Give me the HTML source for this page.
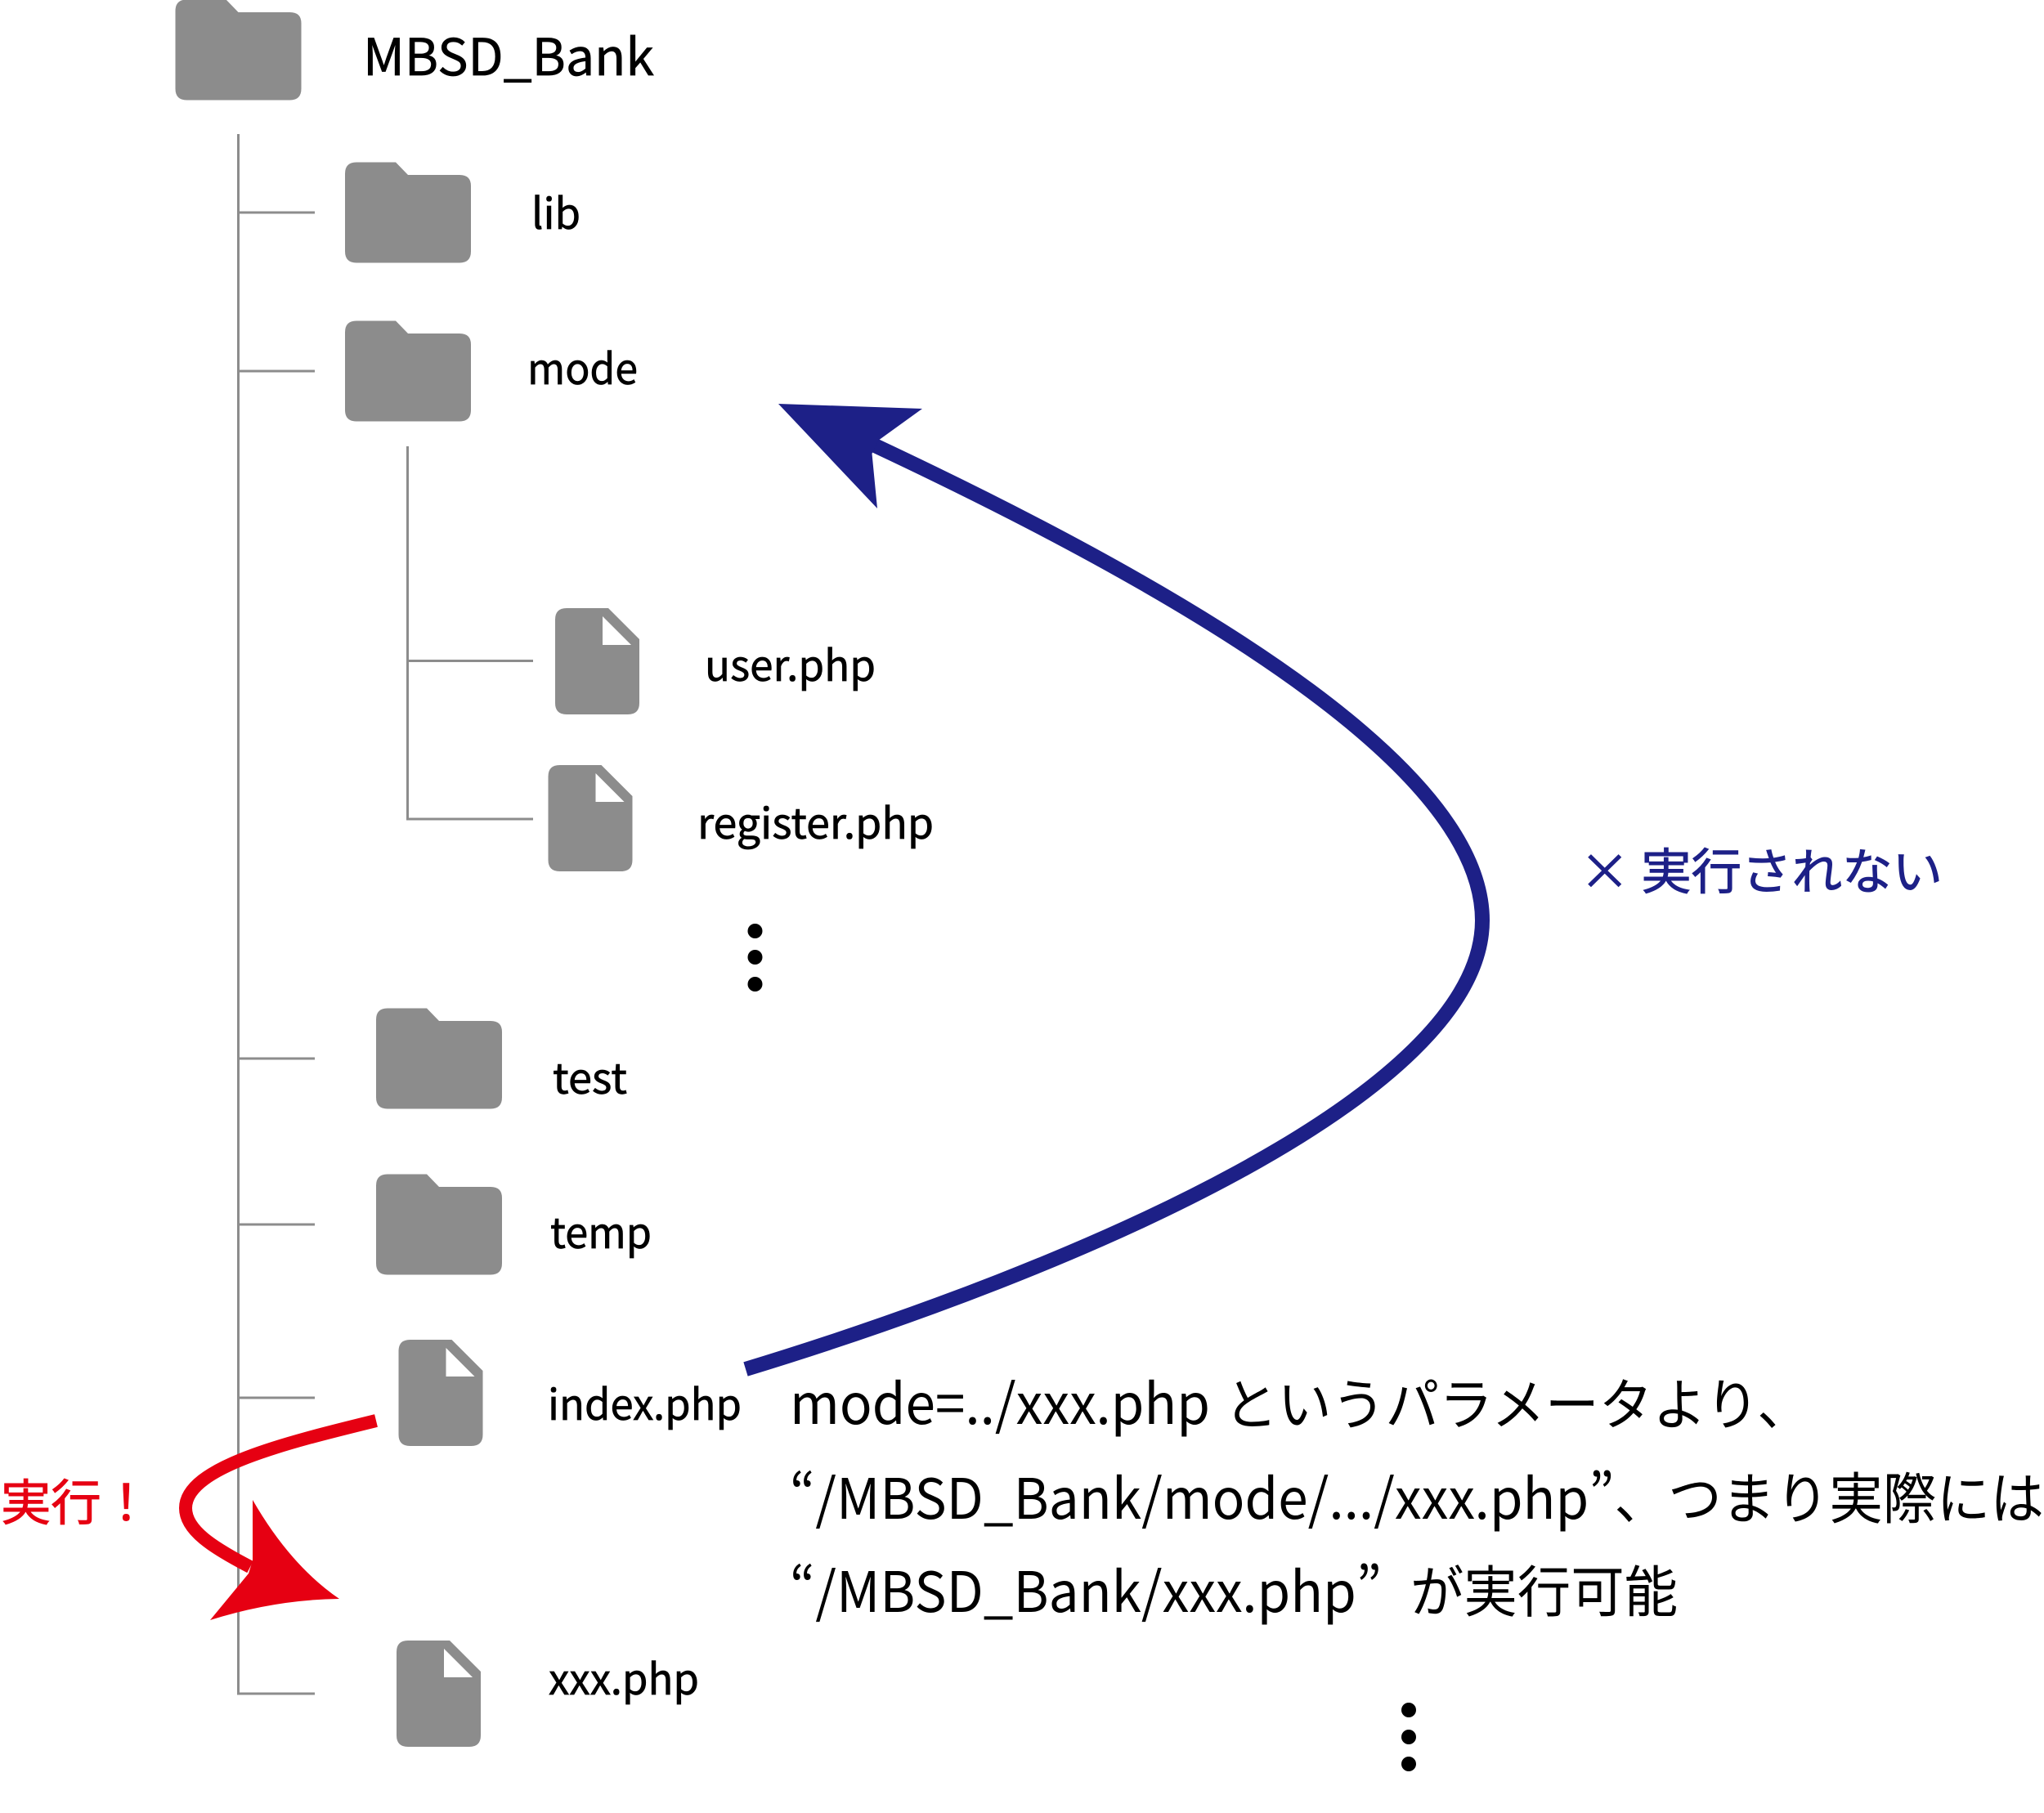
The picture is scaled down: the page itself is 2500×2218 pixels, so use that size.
<!DOCTYPE html>
<html lang="ja"><head><meta charset="utf-8"><title>MBSD_Bank</title>
<style>
html,body{margin:0;padding:0;background:#fff;width:2500px;height:2218px;overflow:hidden}
svg{display:block}
text{font-family:"Noto Sans CJK JP","Liberation Sans",sans-serif;fill:#000}
.l{stroke:#000;stroke-width:.7px}
.b{fill:#1d2087;stroke:#1d2087;stroke-width:1px}
.r{fill:#e60012;stroke:#e60012;stroke-width:1px}
</style></head><body>
<svg xmlns="http://www.w3.org/2000/svg" width="2500" height="2218" viewBox="0 0 2500 2218">
<defs>
<path id="f" d="M14 0H62L77 15.500H140Q154 15.500 154 29V109Q154 123 140 123H14Q0 123 0 109V14Q0 0 14 0Z" fill="#8c8c8c"/>
<g id="d"><path d="M14 0H65L103 38V116Q103 130 89 130H14Q0 130 0 116V14Q0 0 14 0Z" fill="#8c8c8c"/><path d="M58 10V45H93Z" fill="#fff"/></g>
</defs>
<rect width="2500" height="2218" fill="#fff"/>
<g stroke="#8c8c8c" stroke-width="3" fill="none">
<path d="M291.500 164V2072H385M291.500 260H385M291.500 454H385M291.500 1295H385M291.500 1498H385M291.500 1710H385"/>
<path d="M498.500 546V1002H652M498.500 808.500H652"/>
</g>
<use href="#f" x="214.500" y="-0.500"/>
<use href="#f" x="422" y="198.500"/>
<use href="#f" x="422" y="392.500"/>
<use href="#f" x="460" y="1233.500"/>
<use href="#f" x="460" y="1436.500"/>
<use href="#d" x="679" y="744"/>
<use href="#d" x="670.500" y="936"/>
<use href="#d" x="487.500" y="1639"/>
<use href="#d" x="485" y="2007"/>
<text class="l" x="444" y="92" font-size="62" textLength="356" lengthAdjust="spacingAndGlyphs">MBSD_Bank</text>
<text class="l" x="650" y="280" font-size="52" textLength="60" lengthAdjust="spacingAndGlyphs">lib</text>
<text class="l" x="645" y="470" font-size="52" textLength="135" lengthAdjust="spacingAndGlyphs">mode</text>
<text class="l" x="862" y="833" font-size="52" textLength="209" lengthAdjust="spacingAndGlyphs">user.php</text>
<text class="l" x="853" y="1026" font-size="52" textLength="289" lengthAdjust="spacingAndGlyphs">register.php</text>
<text class="l" x="676" y="1338" font-size="52" textLength="91" lengthAdjust="spacingAndGlyphs">test</text>
<text class="l" x="673" y="1527" font-size="52" textLength="124" lengthAdjust="spacingAndGlyphs">temp</text>
<text class="l" x="670" y="1737" font-size="52" textLength="237" lengthAdjust="spacingAndGlyphs">index.php</text>
<text class="l" x="671" y="2073" font-size="52" textLength="184" lengthAdjust="spacingAndGlyphs">xxx.php</text>
<text x="966" y="1742" font-size="68" textLength="514" lengthAdjust="spacingAndGlyphs">mode=../xxx.php</text>
<text x="1497" y="1743" font-size="68" textLength="718" lengthAdjust="spacingAndGlyphs">というパラメータより、</text>
<text x="966" y="1858" font-size="68" textLength="1534" lengthAdjust="spacingAndGlyphs">“/MBSD_Bank/mode/.../xxx.php”、つまり実際には</text>
<text x="966" y="1972" font-size="68" textLength="724" lengthAdjust="spacingAndGlyphs">“/MBSD_Bank/xxx.php”</text>
<text x="1725" y="1972" font-size="68" textLength="327" lengthAdjust="spacingAndGlyphs">が実行可能</text>
<text class="b" x="1932" y="1088" font-size="60" textLength="444" lengthAdjust="spacingAndGlyphs">× 実行されない</text>
<text class="r" x="1" y="1860" font-size="60" textLength="184" lengthAdjust="spacingAndGlyphs">実行！</text>
<g fill="#000">
<circle cx="923.500" cy="1139" r="9"/><circle cx="923.500" cy="1171" r="9"/><circle cx="923.500" cy="1204" r="9"/>
<circle cx="1723" cy="2092" r="9"/><circle cx="1723" cy="2125" r="9"/><circle cx="1723" cy="2158" r="9"/>
</g>
<path d="M912 1675C1312 1553 1813 1340 1813 1126C1813 950 1500 747 1070 545" fill="none" stroke="#1d2087" stroke-width="18"/>
<path d="M952 494L1128 500L1074 539L1066.500 555L1073 622Z" fill="#1d2087"/>
<path d="M460 1738C350 1765 227 1795 227 1845C227 1872 260 1893 306 1917" fill="none" stroke="#e60012" stroke-width="16"/>
<path d="M309 1835Q355 1915 415 1956Q336 1957 257 1982L304 1925L309 1909Z" fill="#e60012"/>
</svg>
</body></html>
